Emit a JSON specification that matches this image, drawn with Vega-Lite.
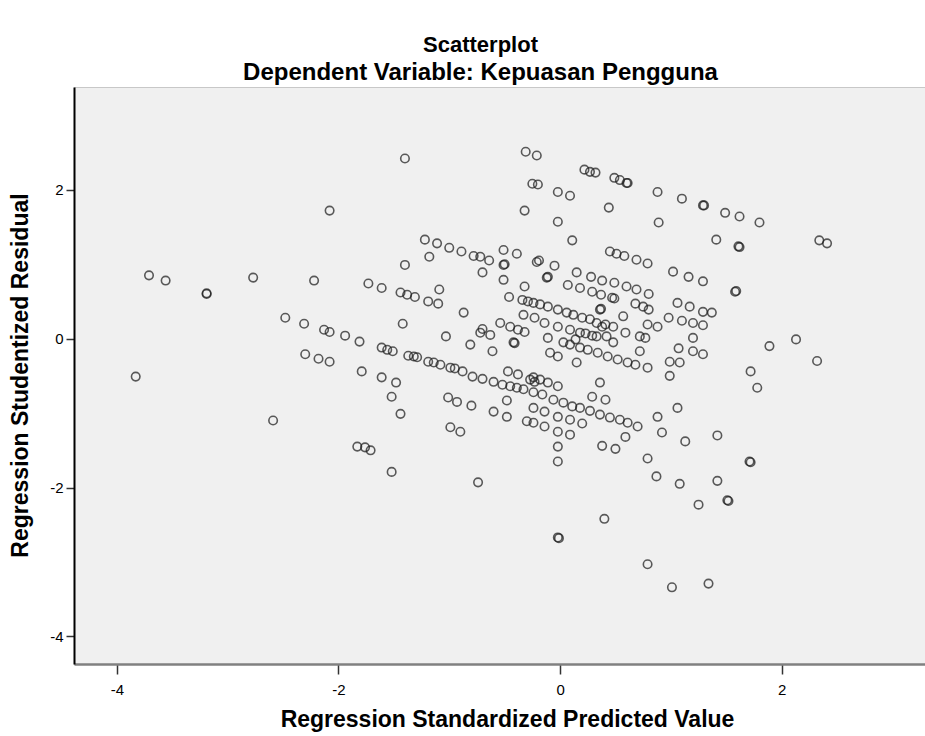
{
  "$schema": "https://vega.github.io/schema/vega-lite/v6.json",
  "autosize": {"type": "none"},
  "width": 851,
  "height": 577,
  "padding": {"left": 74, "top": 87, "right": 0, "bottom": 72},
  "background": "white",
  "config": {
    "view": {"fill": "#f0f0f0", "stroke": "#c8c8c8", "strokeWidth": 1},
    "font": "Liberation Sans"
  },
  "title": {
    "text": "Scatterplot",
    "subtitle": "Dependent Variable: Kepuasan Pengguna",
    "font": "Liberation Sans",
    "subtitleFont": "Liberation Sans",
    "fontSize": 22,
    "subtitleFontSize": 24,
    "fontWeight": "bold",
    "subtitleFontWeight": "bold",
    "color": "black",
    "subtitleColor": "black",
    "anchor": "middle",
    "frame": "group",
    "subtitlePadding": 4,
    "offset": 1,
    "dx": -19
  },
  "data": {"values": [
    {"x": -0.31, "y": 2.51}, {"x": -0.21, "y": 2.46}, {"x": -1.40, "y": 2.42}, {"x": 0.22, "y": 2.27}, {"x": 0.27, "y": 2.24},
    {"x": 0.32, "y": 2.23}, {"x": 0.49, "y": 2.16}, {"x": 0.54, "y": 2.13}, {"x": 0.60, "y": 2.09}, {"x": 0.61, "y": 2.09},
    {"x": -0.25, "y": 2.08}, {"x": -0.20, "y": 2.07}, {"x": -0.02, "y": 1.97}, {"x": 0.09, "y": 1.92}, {"x": 0.88, "y": 1.97},
    {"x": 1.10, "y": 1.88}, {"x": 1.29, "y": 1.79}, {"x": 1.30, "y": 1.79}, {"x": 1.49, "y": 1.69}, {"x": 1.62, "y": 1.64},
    {"x": 1.80, "y": 1.56}, {"x": -2.08, "y": 1.72}, {"x": -0.32, "y": 1.72}, {"x": 0.44, "y": 1.76}, {"x": -0.02, "y": 1.57},
    {"x": 0.89, "y": 1.56}, {"x": 1.41, "y": 1.33}, {"x": 0.11, "y": 1.32}, {"x": 2.34, "y": 1.32}, {"x": 2.41, "y": 1.28},
    {"x": 1.61, "y": 1.24}, {"x": 1.62, "y": 1.23}, {"x": 1.58, "y": 0.63}, {"x": 1.59, "y": 0.64},
    {"x": -1.22, "y": 1.33}, {"x": -1.11, "y": 1.28}, {"x": -1.00, "y": 1.22}, {"x": -0.89, "y": 1.17}, {"x": -0.78, "y": 1.11},
    {"x": -0.72, "y": 1.10}, {"x": -0.64, "y": 1.05}, {"x": -0.51, "y": 1.19}, {"x": -0.39, "y": 1.14}, {"x": -1.18, "y": 1.10},
    {"x": -1.40, "y": 0.99}, {"x": -0.70, "y": 0.89}, {"x": -0.51, "y": 0.99}, {"x": -0.50, "y": 1.00}, {"x": -0.51, "y": 0.79},
    {"x": -0.32, "y": 0.70}, {"x": -0.21, "y": 1.03}, {"x": -1.73, "y": 0.74}, {"x": -1.61, "y": 0.68}, {"x": -1.44, "y": 0.62},
    {"x": -1.38, "y": 0.59}, {"x": -1.31, "y": 0.56}, {"x": -1.19, "y": 0.50}, {"x": -1.10, "y": 0.47}, {"x": -1.09, "y": 0.66},
    {"x": -0.46, "y": 0.56}, {"x": -0.87, "y": 0.35}, {"x": -0.33, "y": 0.32}, {"x": -0.23, "y": 0.28}, {"x": -1.42, "y": 0.20},
    {"x": -0.54, "y": 0.21}, {"x": -0.45, "y": 0.16}, {"x": -0.38, "y": 0.12}, {"x": -0.32, "y": 0.09}, {"x": -0.70, "y": 0.13},
    {"x": 0.45, "y": 1.17}, {"x": 0.51, "y": 1.14}, {"x": 0.58, "y": 1.11}, {"x": 0.69, "y": 1.06}, {"x": 0.79, "y": 1.01},
    {"x": -0.19, "y": 1.05}, {"x": -0.05, "y": 0.98}, {"x": 1.02, "y": 0.90}, {"x": 1.16, "y": 0.83}, {"x": 1.29, "y": 0.77},
    {"x": -0.12, "y": 0.82}, {"x": -0.11, "y": 0.83}, {"x": 0.15, "y": 0.89}, {"x": 0.28, "y": 0.83}, {"x": 0.38, "y": 0.78},
    {"x": 0.49, "y": 0.75}, {"x": 0.60, "y": 0.70}, {"x": 0.69, "y": 0.66}, {"x": 0.80, "y": 0.60}, {"x": 0.07, "y": 0.72},
    {"x": 0.18, "y": 0.68}, {"x": 0.29, "y": 0.63}, {"x": 0.37, "y": 0.59}, {"x": 0.49, "y": 0.54}, {"x": 0.47, "y": 0.55},
    {"x": 1.06, "y": 0.48}, {"x": 1.17, "y": 0.43}, {"x": 1.29, "y": 0.36}, {"x": 1.37, "y": 0.35}, {"x": 0.68, "y": 0.47},
    {"x": 0.75, "y": 0.43}, {"x": 0.80, "y": 0.39}, {"x": 0.98, "y": 0.28}, {"x": 1.10, "y": 0.24}, {"x": 1.20, "y": 0.21},
    {"x": 1.29, "y": 0.18},
    {"x": -0.34, "y": 0.52}, {"x": -0.29, "y": 0.50}, {"x": -0.24, "y": 0.48}, {"x": -0.18, "y": 0.46}, {"x": -0.11, "y": 0.43},
    {"x": -0.02, "y": 0.39}, {"x": 0.06, "y": 0.35}, {"x": 0.12, "y": 0.32}, {"x": 0.20, "y": 0.28}, {"x": 0.27, "y": 0.26},
    {"x": 0.33, "y": 0.21}, {"x": 0.41, "y": 0.19}, {"x": 0.36, "y": 0.39}, {"x": 0.37, "y": 0.40}, {"x": 0.57, "y": 0.30},
    {"x": 0.18, "y": 0.08}, {"x": 0.33, "y": 0.03}, {"x": 0.42, "y": 0.03}, {"x": 0.14, "y": -0.01},
    {"x": -0.14, "y": 0.21}, {"x": -0.02, "y": 0.16}, {"x": 0.09, "y": 0.12}, {"x": 0.23, "y": 0.07}, {"x": 0.29, "y": 0.04},
    {"x": 0.38, "y": 0.16}, {"x": 0.48, "y": 0.16}, {"x": 0.59, "y": 0.08}, {"x": 0.72, "y": 0.03}, {"x": 0.77, "y": 0.01},
    {"x": 0.79, "y": 0.19}, {"x": 0.88, "y": 0.16}, {"x": 1.20, "y": 0.01}, {"x": 1.20, "y": -0.17}, {"x": 1.29, "y": -0.21},
    {"x": 1.07, "y": -0.13}, {"x": 0.99, "y": -0.31}, {"x": 1.08, "y": -0.32}, {"x": 0.99, "y": -0.50},
    {"x": -0.11, "y": 0.01}, {"x": 0.03, "y": -0.05}, {"x": 0.09, "y": -0.08}, {"x": 0.18, "y": -0.12}, {"x": 0.25, "y": -0.15},
    {"x": 0.34, "y": -0.19}, {"x": 0.43, "y": -0.24}, {"x": 0.52, "y": -0.28}, {"x": 0.61, "y": -0.32}, {"x": 0.68, "y": -0.35},
    {"x": 0.79, "y": -0.39}, {"x": -0.09, "y": -0.19}, {"x": -0.02, "y": -0.24}, {"x": 0.15, "y": -0.32}, {"x": 0.48, "y": -0.05},
    {"x": 0.72, "y": -0.17}, {"x": -0.24, "y": -0.52}, {"x": -0.18, "y": -0.55}, {"x": -0.11, "y": -0.59}, {"x": -0.02, "y": -0.64},
    {"x": 0.36, "y": -0.59}, {"x": 0.29, "y": -0.78}, {"x": 0.41, "y": -0.82}, {"x": -0.24, "y": -0.72}, {"x": -0.16, "y": -0.75},
    {"x": -0.06, "y": -0.82}, {"x": 0.03, "y": -0.86}, {"x": 0.11, "y": -0.91}, {"x": 0.18, "y": -0.93}, {"x": 0.27, "y": -0.97},
    {"x": 0.36, "y": -1.02}, {"x": 0.45, "y": -1.06}, {"x": 0.54, "y": -1.09}, {"x": 0.61, "y": -1.13}, {"x": 0.70, "y": -1.18},
    {"x": -0.24, "y": -0.93}, {"x": -0.14, "y": -0.98}, {"x": -0.02, "y": -1.05}, {"x": 0.09, "y": -1.09}, {"x": 0.20, "y": -1.14},
    {"x": -0.24, "y": -1.13}, {"x": -0.14, "y": -1.18}, {"x": -0.02, "y": -1.25}, {"x": 0.09, "y": -1.29}, {"x": -0.02, "y": -1.45},
    {"x": -0.02, "y": -1.65}, {"x": 0.38, "y": -1.44}, {"x": 0.50, "y": -1.48}, {"x": 0.59, "y": -1.32}, {"x": 0.88, "y": -1.05},
    {"x": 0.92, "y": -1.26}, {"x": 1.06, "y": -0.93}, {"x": 1.13, "y": -1.38}, {"x": 1.42, "y": -1.30}, {"x": 0.79, "y": -1.61},
    {"x": 0.87, "y": -1.85}, {"x": 1.08, "y": -1.95}, {"x": 1.25, "y": -2.23}, {"x": 1.42, "y": -1.91}, {"x": 1.51, "y": -2.17},
    {"x": 1.52, "y": -2.18}, {"x": 0.40, "y": -2.42},
    {"x": 1.89, "y": -0.10}, {"x": 2.13, "y": -0.01}, {"x": 2.32, "y": -0.30}, {"x": 1.72, "y": -0.44}, {"x": 1.78, "y": -0.66},
    {"x": 1.71, "y": -1.65}, {"x": 1.72, "y": -1.66},
    {"x": -0.02, "y": -2.67}, {"x": -0.01, "y": -2.68}, {"x": 0.79, "y": -3.03}, {"x": 1.01, "y": -3.34}, {"x": 1.34, "y": -3.29},
    {"x": -1.94, "y": 0.04}, {"x": -1.81, "y": -0.04}, {"x": -1.61, "y": -0.12}, {"x": -1.56, "y": -0.15}, {"x": -1.51, "y": -0.17},
    {"x": -1.37, "y": -0.23}, {"x": -1.32, "y": -0.24}, {"x": -1.29, "y": -0.25}, {"x": -1.19, "y": -0.31}, {"x": -1.14, "y": -0.32},
    {"x": -1.08, "y": -0.35}, {"x": -0.99, "y": -0.39}, {"x": -0.95, "y": -0.40}, {"x": -0.88, "y": -0.44}, {"x": -0.79, "y": -0.51},
    {"x": -0.70, "y": -0.54}, {"x": -0.60, "y": -0.58}, {"x": -0.52, "y": -0.62}, {"x": -0.45, "y": -0.64}, {"x": -0.39, "y": -0.66},
    {"x": -0.33, "y": -0.68}, {"x": -0.27, "y": -0.55}, {"x": -0.23, "y": -0.58}, {"x": -1.03, "y": 0.03}, {"x": -0.81, "y": -0.08},
    {"x": -0.61, "y": -0.17}, {"x": -0.72, "y": 0.08}, {"x": -0.63, "y": 0.05}, {"x": -0.42, "y": -0.05}, {"x": -0.41, "y": -0.06},
    {"x": -0.47, "y": -0.44}, {"x": -0.38, "y": -0.48}, {"x": -1.79, "y": -0.44}, {"x": -1.61, "y": -0.52}, {"x": -1.48, "y": -0.59},
    {"x": -1.52, "y": -0.78}, {"x": -1.44, "y": -1.01}, {"x": -1.01, "y": -0.79}, {"x": -0.93, "y": -0.85}, {"x": -0.80, "y": -0.90},
    {"x": -0.48, "y": -0.83}, {"x": -0.60, "y": -0.98}, {"x": -0.48, "y": -1.05}, {"x": -0.30, "y": -1.11}, {"x": -0.99, "y": -1.19},
    {"x": -0.90, "y": -1.25}, {"x": -1.83, "y": -1.45}, {"x": -1.76, "y": -1.46}, {"x": -1.71, "y": -1.50}, {"x": -1.52, "y": -1.79},
    {"x": -0.74, "y": -1.93},
    {"x": -3.71, "y": 0.85}, {"x": -3.56, "y": 0.78}, {"x": -3.19, "y": 0.60}, {"x": -3.19, "y": 0.61}, {"x": -3.83, "y": -0.51},
    {"x": -2.59, "y": -1.10}, {"x": -2.77, "y": 0.82}, {"x": -2.22, "y": 0.78}, {"x": -2.48, "y": 0.28}, {"x": -2.31, "y": 0.20},
    {"x": -2.13, "y": 0.12}, {"x": -2.08, "y": 0.09}, {"x": -2.30, "y": -0.21}, {"x": -2.18, "y": -0.27}, {"x": -2.08, "y": -0.31}
  ]},
  "mark": {"type": "point", "shape": "circle", "filled": false, "size": 72, "strokeWidth": 1.6, "color": "#1e1e1e", "opacity": 0.72, "clip": true},
  "encoding": {
    "x": {
      "field": "x", "type": "quantitative",
      "scale": {"domain": [-4.387, 3.294], "nice": false, "zero": false},
      "axis": {
        "values": [-4, -2, 0, 2], "labelExpr": "'' + datum.value", "grid": false,
        "title": "Regression Standardized Predicted Value",
        "titleFont": "Liberation Sans", "titleFontSize": 23, "titleFontWeight": "bold", "titleColor": "black",
        "titleX": 433, "titleY": 44, "titleBaseline": "top", "titleAlign": "center",
        "labelFont": "Liberation Sans", "labelFontSize": 15, "labelColor": "black", "labelPadding": 8,
        "domainColor": "#808080", "domainWidth": 2.5, "tickColor": "#333", "tickSize": 10, "tickWidth": 1.5
      }
    },
    "y": {
      "field": "y", "type": "quantitative",
      "scale": {"domain": [-4.37, 3.38], "nice": false, "zero": false},
      "axis": {
        "values": [-4, -2, 0, 2], "labelExpr": "'' + datum.value", "grid": false,
        "title": "Regression Studentized Residual",
        "titleFont": "Liberation Sans", "titleFontSize": 23, "titleFontWeight": "bold", "titleColor": "black",
        "titleX": -54, "titleY": 288, "titleBaseline": "middle", "titleAlign": "center", "titleAngle": -90,
        "labelFont": "Liberation Sans", "labelFontSize": 15, "labelColor": "black", "labelPadding": 3,
        "domainColor": "black", "domainWidth": 2, "tickColor": "#333", "tickSize": 8, "tickWidth": 1.5
      }
    }
  }
}
